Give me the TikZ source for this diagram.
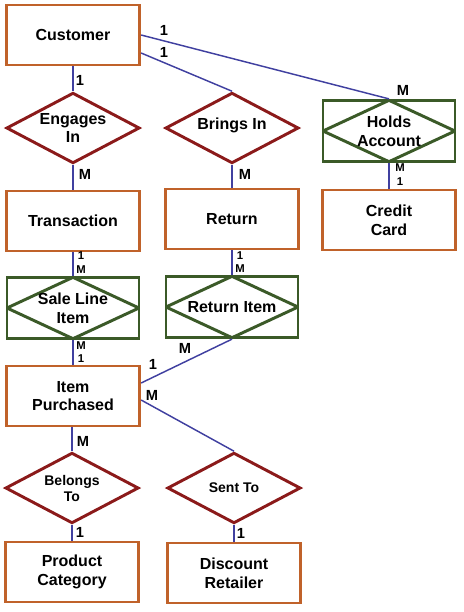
\documentclass[tikz,border=0pt]{standalone}
\usepackage{fontspec}
\setmainfont{Liberation Sans}
\usetikzlibrary{shapes.geometric, positioning, calc}

\definecolor{entcol}{RGB}{192,98,42}
\definecolor{relcol}{RGB}{139,26,26}
\definecolor{weakcol}{RGB}{59,90,40}
\definecolor{linkcol}{RGB}{64,64,160}

\tikzset{
  entity/.style={draw=entcol, line width=2.2pt, fill=white, minimum width=100pt,
    minimum height=45pt, align=center, font=\bfseries\fontsize{12}{14}\selectfont, inner sep=1pt},
  rel/.style={draw=relcol, line width=2.2pt, fill=white, diamond, inner sep=0pt,
    minimum width=100pt, minimum height=53pt},
  rtxt/.style={align=center, font=\bfseries\fontsize{12}{14}\selectfont, inner sep=0pt},
  weakrel/.style={draw=weakcol, line width=2.2pt, fill=white, minimum width=99pt,
    minimum height=46pt, align=center, font=\bfseries\fontsize{12}{14}\selectfont, inner sep=0pt,
    path picture={\draw[weakcol, line width=2.2pt] (path picture bounding box.north)
      -- (path picture bounding box.east) -- (path picture bounding box.south)
      -- (path picture bounding box.west) -- cycle;}},
  link/.style={draw=linkcol, line width=1.1pt},
  card/.style={font=\bfseries\fontsize{11}{12}\selectfont, inner sep=0pt},
  smallcard/.style={font=\bfseries\fontsize{8.5}{9}\selectfont, inner sep=0pt}
}

\begin{document}
\begin{tikzpicture}[x=0.75pt, y=-0.75pt]
\useasboundingbox (0,0) rectangle (464,612);

% Entities
\node[entity] (cust) at (73,35) {Customer};
\node[entity] (trans) at (73,221) {Transaction};
\node[entity] (ret) at (232,219) {Return};
\node[entity] (credit) at (389,220) {Credit\\Card};
\node[entity] (itemp) at (73,396) {Item\\Purchased};
\node[entity] (prodcat) at (72,572) {Product\\Category};
\node[entity] (discret) at (234,573) {Discount\\Retailer};

% Relationships
\node[rel, label={[rtxt]center:Engages\\In}] (engages) at (73,128) {};
\node[rel, label={[rtxt, yshift=2pt]center:Brings In}] (brings) at (232,128) {};
\node[rel, label={[rtxt, font=\bfseries\fontsize{10.5}{12}\selectfont]center:Belongs\\To}] (belongs) at (72,488) {};
\node[rel, label={[rtxt, font=\bfseries\fontsize{10.5}{12}\selectfont]center:Sent To}] (sent) at (234,488) {};

% Weak relationships
\node[weakrel] (holds) at (389,131) {Holds\\Account};
\node[weakrel] (saleline) at (73,308) {Sale Line\\Item};
\node[weakrel] (retitem) at (232,307) {Return Item};

% Connectors
\draw[link] (cust.south) -- (engages.north);
\draw[link] (engages.south) -- (trans.north);
\draw[link] (cust.east) -- (holds.north);
\draw[link] ([yshift=-13.5pt]cust.east) -- (brings.north);
\draw[link] (brings.south) -- (ret.north);
\draw[link] (holds.south) -- (credit.north);
\draw[link] (trans.south) -- (saleline.north);
\draw[link] (ret.south) -- (retitem.north);
\draw[link] (saleline.south) -- (itemp.north);
\draw[link] (retitem.south) -- ([yshift=9.75pt]itemp.east);
\draw[link] ([yshift=-3pt]itemp.east) -- (sent.north);
\draw[link] ([xshift=-0.75pt]itemp.south) -- (belongs.north);
\draw[link] (belongs.south) -- (prodcat.north);
\draw[link] (sent.south) -- (discret.north);

% Cardinalities
\foreach \x/\y/\t [count=\i] in {80/80/1, 85/174/M, 164/30/1, 164/52/1, 403/90/M,
    245/174/M, 185/348/M, 153/364/1, 152/395/M, 83/441/M, 80/532/1, 241/533/1}
  \node[card] (c\i) at (\x,\y) {\t};
\foreach \x/\y/\t [count=\i] in {400/168/M, 400/182/1, 81/256/1, 81/270/M,
    240/256/1, 240/269/M, 81/346/M, 81/359/1}
  \node[smallcard] (s\i) at (\x,\y) {\t};
\end{tikzpicture}
\end{document}
